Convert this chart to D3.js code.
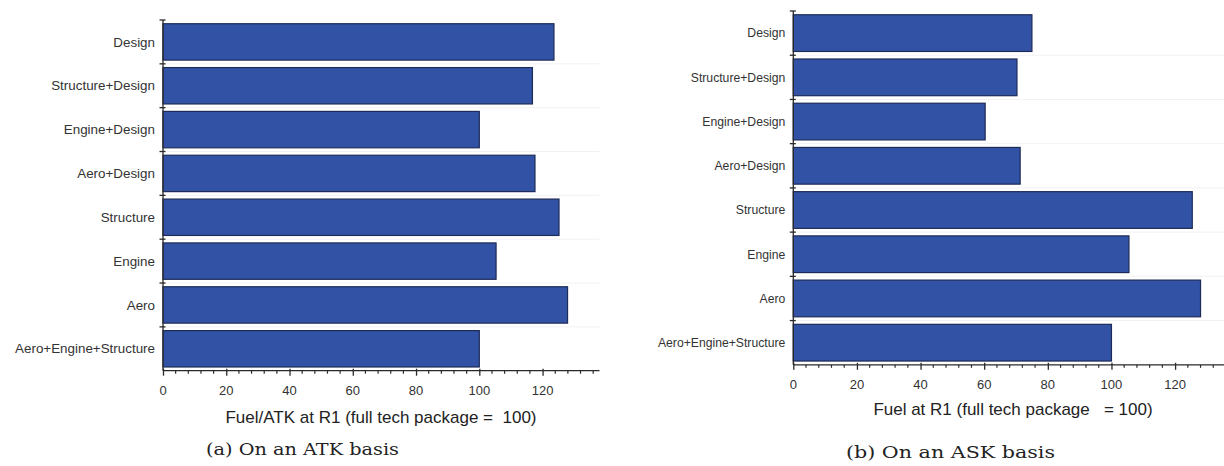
<!DOCTYPE html>
<html>
<head>
<meta charset="utf-8">
<script src="https://cdn.jsdelivr.net/npm/d3@7"></script>
<style>
  html, body { margin: 0; padding: 0; background: #fff; }
  svg { display: block; }
</style>
</head>
<body>
<svg id="chart" width="1224" height="466"></svg>
<script>
// Scenario categories, listed top to bottom
const categories = [
  "Design", "Structure+Design", "Engine+Design", "Aero+Design",
  "Structure", "Engine", "Aero", "Aero+Engine+Structure"
];
// Fuel per ATK at R1, indexed to full tech package = 100
const atkValues = [123.6, 116.8, 100, 117.6, 125.2, 105.3, 127.9, 100];
// Fuel at R1 (ASK basis), indexed to full tech package = 100
const askValues = [75, 70.3, 60.3, 71.3, 125.4, 105.5, 128, 100];
// Labelled x ticks
const xTickValues = [0, 20, 40, 60, 80, 100, 120];
const xTitles = ["Fuel/ATK at R1 (full tech package =  100)", "Fuel at R1 (full tech package   = 100)"];
const captions = ["(a) On an ATK basis", "(b) On an ASK basis"];

const svg = d3.select("#chart");
const BAR_FILL = "#3252a5";
const BAR_STROKE = "#1d2b57";
const AXIS = "#2a2a2a";
const TEXT = "#333";

const panels = [
  { values: atkValues, xDomain: [0, 138], xRange: [163, 599.5], yRange: [20, 370.7],
    catFont: 13.4, tickFont: 13, tickBase: 395, titleX: 381, titleY: 423,
    captionX: 302.5, captionY: 455, captionW: 193, title: xTitles[0], caption: captions[0] },
  { values: askValues, xDomain: [0, 136], xRange: [793.3, 1226], yRange: [11, 364.8],
    catFont: 12.2, tickFont: 13, tickBase: 388.5, titleX: 1013, titleY: 415,
    captionX: 950.5, captionY: 458, captionW: 209, title: xTitles[1], caption: captions[1] }
];

panels.forEach(p => {
  const g = svg.append("g");
  const x = d3.scaleLinear().domain(p.xDomain).range(p.xRange);
  const y = d3.scaleBand().domain(categories).range(p.yRange)
    .paddingInner(0.17).paddingOuter(0.085);
  const step = y.step();
  const bounds = categories.map(c => y(c) - step * y.paddingInner() / 2)
    .concat([p.yRange[1]]);
  const x0 = x(0);
  const xEnd = p.xRange[1];

  // faint separators between bands
  g.selectAll("line.sep").data(bounds.slice(1, -1)).join("line")
    .attr("x1", x0).attr("x2", xEnd).attr("y1", d => d).attr("y2", d => d)
    .attr("stroke", "#f2f2f2").attr("stroke-width", 1);

  // bars
  g.selectAll("rect.bar").data(categories).join("rect")
    .attr("class", "bar")
    .attr("x", x0)
    .attr("y", d => y(d))
    .attr("width", (d, i) => x(p.values[i]) - x0)
    .attr("height", y.bandwidth())
    .attr("fill", BAR_FILL)
    .attr("stroke", BAR_STROKE)
    .attr("stroke-width", 1.2);

  // y axis line and cross ticks at band boundaries
  g.append("line").attr("x1", x0).attr("x2", x0)
    .attr("y1", p.yRange[0]).attr("y2", p.yRange[1])
    .attr("stroke", AXIS).attr("stroke-width", 1.3);
  g.selectAll("line.ytick").data(bounds.slice(0, -1)).join("line")
    .attr("x1", x0 - 3.5).attr("x2", x0 + 2.5)
    .attr("y1", d => d).attr("y2", d => d)
    .attr("stroke", AXIS).attr("stroke-width", 1.3);

  // category labels
  g.selectAll("text.cat").data(categories).join("text")
    .attr("x", x0 - 8)
    .attr("y", d => y(d) + y.bandwidth() / 2)
    .attr("dy", "0.35em")
    .attr("text-anchor", "end")
    .attr("font-family", "Liberation Sans, Arial, sans-serif")
    .attr("font-size", p.catFont)
    .attr("fill", TEXT)
    .text(d => d);

  // x axis with major and minor ticks
  const yAxisPos = p.yRange[1];
  const xAxis = d3.axisBottom(x).tickValues(xTickValues).tickSize(5).tickPadding(7)
    .tickFormat(d3.format("d"));
  const ax = g.append("g").attr("transform", `translate(0,${yAxisPos})`).call(xAxis);
  ax.select(".domain").remove();
  ax.selectAll(".tick line").attr("y1", -2).attr("stroke", AXIS).attr("stroke-width", 1.3);
  ax.selectAll(".tick text").remove();
  g.append("line").attr("x1", x0).attr("x2", xEnd)
    .attr("y1", yAxisPos).attr("y2", yAxisPos)
    .attr("stroke", AXIS).attr("stroke-width", 1.3);
  const minor = d3.range(4, p.xDomain[1], 4).filter(v => v % 20 !== 0);
  g.selectAll("line.minor").data(minor).join("line")
    .attr("x1", d => x(d)).attr("x2", d => x(d))
    .attr("y1", yAxisPos).attr("y2", yAxisPos + 3)
    .attr("stroke", AXIS).attr("stroke-width", 1.2);
  g.selectAll("text.xt").data(xTickValues).join("text")
    .attr("x", d => x(d)).attr("y", p.tickBase)
    .attr("text-anchor", "middle")
    .attr("font-family", "Liberation Sans, Arial, sans-serif")
    .attr("font-size", p.tickFont)
    .attr("fill", TEXT)
    .text(d => d);

  // axis title
  g.append("text")
    .attr("x", p.titleX).attr("y", p.titleY)
    .attr("text-anchor", "middle")
    .attr("font-family", "Liberation Sans, Arial, sans-serif")
    .attr("font-size", 17)
    .attr("fill", "#222")
    .attr("xml:space", "preserve")
    .style("white-space", "pre")
    .text(p.title);

  // caption
  g.append("text")
    .attr("x", p.captionX).attr("y", p.captionY)
    .attr("text-anchor", "middle")
    .attr("font-family", "DejaVu Serif, Liberation Serif, serif")
    .attr("font-size", 17.5)
    .attr("fill", "#222")
    .attr("textLength", p.captionW)
    .attr("lengthAdjust", "spacingAndGlyphs")
    .text(p.caption);
});
</script>
</body>
</html>
